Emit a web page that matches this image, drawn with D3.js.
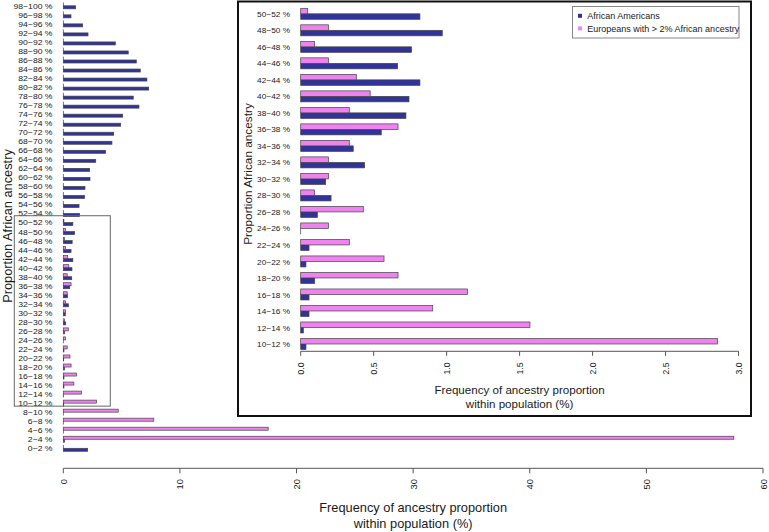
<!DOCTYPE html>
<html><head><meta charset="utf-8">
<script src="https://cdn.jsdelivr.net/npm/d3@7"></script>
<style>
body{margin:0;background:#fff}
svg{display:block}
text{font-family:"Liberation Sans",Arial,Helvetica,sans-serif;fill:#1a1a1a}
</style>
</head><body>
<svg id="c" width="769" height="532"></svg>
<script>
// ---------- DATA ----------
const categories = ["0−2 %","2−4 %","4−6 %","6−8 %","8−10 %","10−12 %","12−14 %","14−16 %","16−18 %","18−20 %",
  "20−22 %","22−24 %","24−26 %","26−28 %","28−30 %","30−32 %","32−34 %","34−36 %","36−38 %","38−40 %",
  "40−42 %","42−44 %","44−46 %","46−48 %","48−50 %","50−52 %","52−54 %","54−56 %","56−58 %","58−60 %",
  "60−62 %","62−64 %","64−66 %","66−68 %","68−70 %","70−72 %","72−74 %","74−76 %","76−78 %","78−80 %",
  "80−82 %","82−84 %","84−86 %","86−88 %","88−90 %","90−92 %","92−94 %","94−96 %","96−98 %","98−100 %"];
const africanAmericans = [2.09,0.10,0,0,0,0.036,0.018,0.057,0.057,0.096,
  0.036,0.057,0,0.114,0.208,0.171,0.438,0.36,0.552,0.721,
  0.742,0.817,0.664,0.76,0.97,0.817,1.40,1.35,1.83,1.86,
  2.29,2.26,2.78,3.63,4.17,4.32,4.92,5.09,6.49,6.0,
  7.32,7.17,6.6,6.26,5.57,4.46,2.12,1.66,0.66,1.06];
const europeans = [0,57.5,17.57,7.76,4.71,2.857,1.571,0.905,1.143,0.667,
  0.571,0.333,0.19,0.429,0.095,0.19,0.19,0.333,0.667,0.333,
  0.476,0.381,0.19,0.095,0.19,0.048,0,0,0,0,
  0,0,0,0,0,0,0,0,0,0,
  0,0,0,0,0,0,0,0,0,0];
const mainTicks = [0,10,20,30,40,50,60];
const insetTicks = [0,0.5,1,1.5,2,2.5,3];
const insetTickLabels = ["0.0","0.5","1.0","1.5","2.0","2.5","3.0"];
const insetFirst = 5, insetLast = 25;   // 10−12 % .. 50−52 %
const seriesNames = ["African Americans","Europeans with > 2% African ancestry"];
const seriesColors = ["#30339a","#ee82ee"];
const yTitle = "Proportion African ancestry";
const xTitle = ["Frequency of ancestry proportion","within population (%)"];

const svg = d3.select("#c");
const BORDER = "#444";

// ---------- MAIN CHART ----------
const xM = d3.scaleLinear().domain([0,60]).range([63.3,763]);
const yM = d3.scaleLinear().domain([0,150]).range([454.3,2.8]); // bar-width units, 3 per group
const gM = svg.append("g");

function drawBars(g, x, y, idx, minW){
  idx.forEach((i,k)=>{
    const base = 3*k;
    // blue (first series) lower, pink upper
    [[africanAmericans[i],0],[europeans[i],1]].forEach(([v,s])=>{
      const u0 = base+1+s, u1 = base+2+s;
      g.append("rect")
        .attr("x", x(0))
        .attr("y", y(u1))
        .attr("width", Math.max(x(v)-x(0), minW))
        .attr("height", y(u0)-y(u1))
        .attr("fill", seriesColors[s])
        .attr("stroke", BORDER).attr("stroke-width",0.7);
    });
  });
}
const allIdx = d3.range(categories.length);
drawBars(gM, xM, yM, allIdx, 0.01);

// category labels (slightly widened, as in the reference)
gM.selectAll("text.cat").data(allIdx).join("text")
  .attr("transform",i=>`translate(52.5,${yM(3*i+2)+0.6}) scale(1.12,1)`)
  .attr("text-anchor","end").attr("dominant-baseline","central")
  .attr("font-size",7.7).text(i=>categories[i]);

// highlight box around inset range
gM.append("rect")
  .attr("x",14.3).attr("y",yM(3*insetLast+3)-3.8)
  .attr("width",96).attr("height",yM(3*insetFirst+1)-yM(3*insetLast+3)+3.8)
  .attr("fill","none").attr("stroke","#666").attr("stroke-width",1);

// x axis
const axY = 468.3;
gM.append("line").attr("x1",xM(0)).attr("x2",xM(60)).attr("y1",axY).attr("y2",axY)
  .attr("stroke","#555").attr("stroke-width",1);
mainTicks.forEach(t=>{
  gM.append("line").attr("x1",xM(t)).attr("x2",xM(t)).attr("y1",axY).attr("y2",axY+5)
    .attr("stroke","#555");
  gM.append("text").attr("x",xM(t)).attr("y",479)
    .attr("transform",`rotate(-90,${xM(t)},479)`)
    .attr("text-anchor","end").attr("dominant-baseline","central")
    .attr("font-size",9.4).text(t);
});
gM.append("text").attr("x",(xM(0)+xM(60))/2).attr("y",512).attr("text-anchor","middle")
  .attr("font-size",12.8).text(xTitle[0]);
gM.append("text").attr("x",(xM(0)+xM(60))/2).attr("y",528).attr("text-anchor","middle")
  .attr("font-size",12.8).text(xTitle[1]);
gM.append("text").attr("transform","translate(7,226) rotate(-90)")
  .attr("text-anchor","middle").attr("dominant-baseline","central")
  .attr("font-size",12.8).text(yTitle);

// ---------- INSET ----------
const gI = svg.append("g");
gI.append("rect").attr("x",238).attr("y",1.5).attr("width",513).attr("height",414.5)
  .attr("fill","#fff").attr("stroke","#111").attr("stroke-width",2);

const xI = d3.scaleLinear().domain([0,3]).range([300.7,738.5]);
const nI = insetLast-insetFirst+1;
const yI = d3.scaleLinear().domain([0,3*nI]).range([355,355-3*nI*5.503]);
const insetIdx = d3.range(insetFirst, insetLast+1);
drawBars(gI, xI, yI, insetIdx, 0.01);

gI.selectAll("text.cat").data(insetIdx).join("text")
  .attr("transform",(i,k)=>`translate(290,${yI(3*k+2)+0.7}) scale(1.12,1)`)
  .attr("text-anchor","end").attr("dominant-baseline","central")
  .attr("font-size",7.4).text(i=>categories[i]);

const axYI = 351.3;
gI.append("line").attr("x1",xI(0)).attr("x2",xI(3)).attr("y1",axYI).attr("y2",axYI)
  .attr("stroke","#555");
insetTicks.forEach((t,k)=>{
  gI.append("line").attr("x1",xI(t)).attr("x2",xI(t)).attr("y1",axYI).attr("y2",axYI+4.5)
    .attr("stroke","#555");
  gI.append("text").attr("x",xI(t)).attr("y",362.5)
    .attr("transform",`rotate(-90,${xI(t)},362.5)`)
    .attr("text-anchor","end").attr("dominant-baseline","central")
    .attr("font-size",8.6).text(insetTickLabels[k]);
});
gI.append("text").attr("x",(xI(0)+xI(3))/2).attr("y",394).attr("text-anchor","middle")
  .attr("font-size",11.6).text(xTitle[0]);
gI.append("text").attr("x",(xI(0)+xI(3))/2).attr("y",408).attr("text-anchor","middle")
  .attr("font-size",11.6).text(xTitle[1]);
gI.append("text").attr("transform","translate(248,174) rotate(-90)")
  .attr("text-anchor","middle").attr("dominant-baseline","central")
  .attr("font-size",11.8).text(yTitle);

// legend
const lg = gI.append("g");
lg.append("rect").attr("x",572.5).attr("y",6.5).attr("width",166.5).attr("height",31.5)
  .attr("fill","#fff").attr("stroke","#888").attr("stroke-width",1);
seriesNames.forEach((n,k)=>{
  const yy = 15.8 + k*12.6;
  lg.append("rect").attr("x",578).attr("y",yy-2).attr("width",4).attr("height",4)
    .attr("fill",seriesColors[k]);
  lg.append("text").attr("x",587.3).attr("y",yy+0.3).attr("dominant-baseline","central")
    .attr("font-size",9).text(n);
});
</script>
</body></html>
